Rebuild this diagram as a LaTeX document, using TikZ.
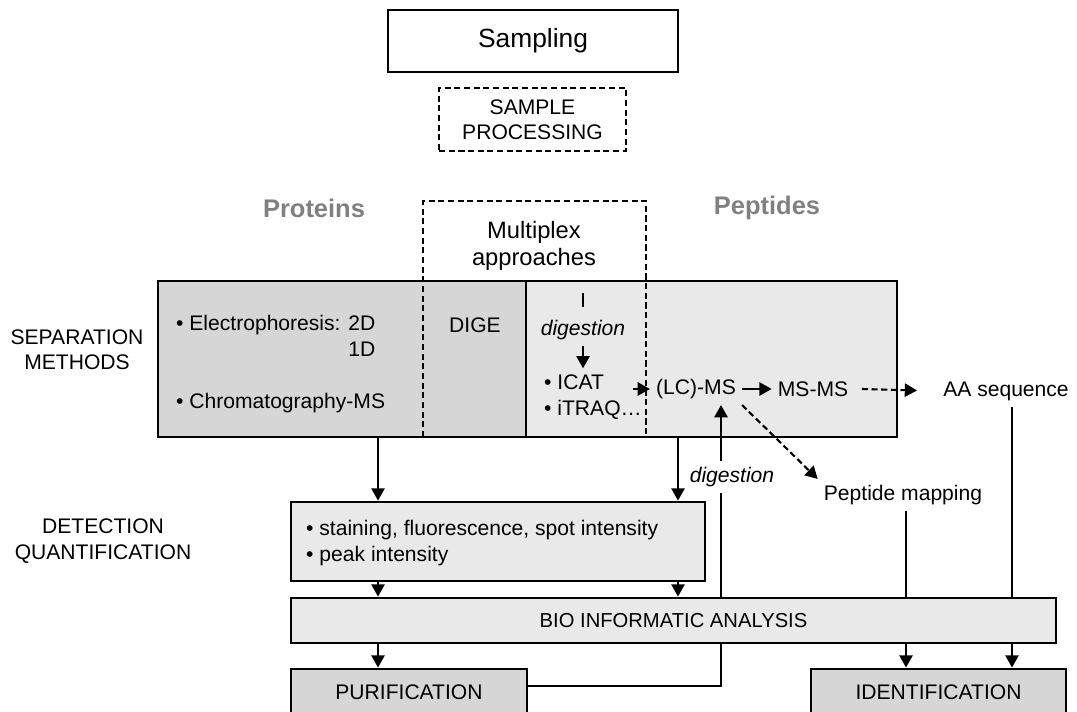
\documentclass[tikz,border=0pt]{standalone}
\usepackage{fontspec}
\setmainfont{Liberation Sans}
\usetikzlibrary{arrows.meta}
\definecolor{darkfill}{gray}{0.84}
\definecolor{lightfill}{gray}{0.915}
\definecolor{headgray}{gray}{0.5}
\begin{document}
\begin{tikzpicture}[x=0.02cm,y=-0.02cm,>={Triangle[length=7pt,width=7.5pt]},
  every node/.style={font=\fontsize{12}{14.5}\selectfont},
  box/.style={draw,line width=1.6pt,inner sep=0pt},
  dashbox/.style={draw,line width=1.6pt,dash pattern=on 3.5pt off 2pt,inner sep=0pt},
  conn/.style={line width=1.2pt},
  dconn/.style={line width=1.2pt,dash pattern=on 3.5pt off 2pt},
  head/.style={font=\fontsize{14.5}{17}\selectfont\bfseries,text=headgray},
  note/.style={font=\fontsize{12}{14}\selectfont\itshape}]

\clip (0,0) rectangle (1077,712);

\node[box,minimum width=5.8cm,minimum height=1.24cm,font=\fontsize{15}{17}\selectfont] (samp) at (533,41) {Sampling};
\node[dashbox,minimum width=3.74cm,minimum height=1.26cm,align=center] (proc) at (532.5,119.5) {SAMPLE\\PROCESSING};

\node[head] (protlab) at (314,208) {Proteins};
\node[head] (peptlab) at (767,208) {Peptides};
\node[align=center,font=\fontsize{13.5}{15.5}\selectfont] (mplx) at (534,246) {Multiplex\\approaches};

\begin{scope}[every node/.append style={box,minimum height=3.12cm}]
  \node[fill=darkfill,minimum width=7.36cm] (prot) at (342,359) {};
  \node[fill=lightfill,minimum width=7.42cm] (pept) at (711.5,359) {};
\end{scope}
\draw[line width=1.6pt,dash pattern=on 3.5pt off 2pt] (423,437) |- (646,201) -- (646,437);

\node[align=center] (sepm) at (77,350) {SEPARATION\\METHODS};
\node[align=center] (detq) at (103,541) {DETECTION\\QUANTIFICATION};

\node[anchor=west] (elec) at (170,325) {\textbullet\ Electrophoresis: 2D};
\node[anchor=east] (oned) at ([yshift=-0.48cm]elec.east) {1D};
\node[anchor=west] (chrom) at (170,403) {\textbullet\ Chromatography-MS};
\node (dige) at (475,325) {DIGE};
\node[note] (dig1) at (583,330) {digestion};
\node[anchor=west] (icat) at (538,382) {\textbullet\ ICAT};
\node[anchor=west] (itraq) at (538,410) {\textbullet\ iTRAQ…};
\node (lcms) at (696,389) {(LC)-MS};
\node (msms) at (813,389) {MS-MS};
\node (aa) at (1006,391) {AA sequence};
\node (pmap) at (903,495) {Peptide mapping};
\node[note] (dig2) at (732,477) {digestion};

\node[box,fill=lightfill,minimum width=8.28cm,minimum height=1.58cm] (det) at (498,541.5) {};
\node[anchor=west,align=left,font=\fontsize{12}{14.7}\selectfont] (dettext) at (300,543) {\textbullet\ staining, fluorescence, spot intensity\\\textbullet\ peak intensity};
\node[box,fill=lightfill,minimum width=15.3cm,minimum height=0.9cm,font=\fontsize{11.5}{13}\selectfont] (bio) at (673.5,620.5) {BIO INFORMATIC ANALYSIS};
\node[box,fill=darkfill,minimum width=4.72cm,minimum height=0.94cm] (purif) at (409,692.5) {PURIFICATION};
\node[box,fill=darkfill,minimum width=5.1cm,minimum height=0.94cm] (ident) at (938.5,692.5) {IDENTIFICATION};

\coordinate (xa) at (378,0);
\coordinate (xb) at (678,0);
\coordinate (xc) at (721,0);
\coordinate (xd) at (906,0);
\coordinate (xe) at (1012,0);
\coordinate (lcin) at (633,389);

\draw[conn,->] (xa |- prot.south) -- (xa |- det.north);
\draw[conn,->] (xa |- det.south) -- (xa |- bio.north);
\draw[conn,->] (xa |- bio.south) -- (xa |- purif.north);
\draw[conn,->] (xb |- pept.south) -- (xb |- det.north);
\draw[conn,->] (xb |- det.south) -- (xb |- bio.north);
\draw[conn] ([yshift=0.13cm]purif.east) -| (xc |- bio.south);
\draw[conn] (xc |- bio.north) -- (xc |- dig2.south);
\draw[conn,->] (xc |- dig2.north) -- (xc |- lcms.south);
\draw[line width=1.6pt] ([yshift=0.14cm]dig1.north) -- ++(0,-14);
\draw[conn,->] (dig1.south) -- (dig1.south |- icat.north);
\path[conn,->] (lcin) edge (lcms.west)
  (lcms.east) edge (msms.west);
\draw[dconn,->,shorten >=0.4cm] ([xshift=0.15cm]msms.east) -- (aa.west);
\draw[dconn,->] (lcms.south east) -- (pmap.north west);
\draw[conn] (xd |- pmap.south) -- (xd |- bio.north);
\draw[conn,->] (xd |- bio.south) -- (xd |- ident.north);
\draw[conn] (xe |- aa.south) -- (xe |- bio.north);
\draw[conn,->] (xe |- bio.south) -- (xe |- ident.north);

\end{tikzpicture}
\end{document}
